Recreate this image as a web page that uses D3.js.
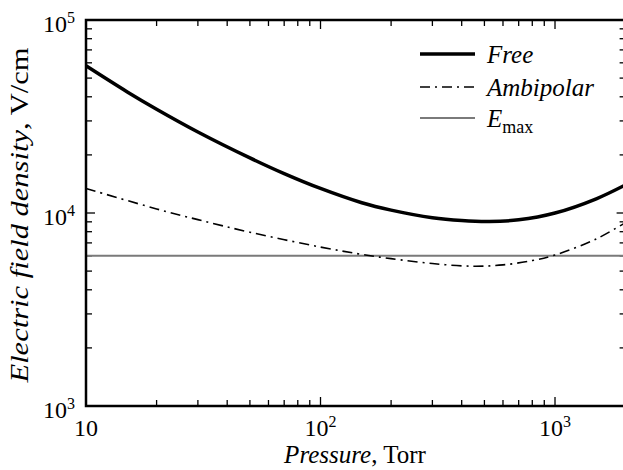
<!DOCTYPE html>
<html><head><meta charset="utf-8">
<script src="https://cdn.jsdelivr.net/npm/d3@7"></script>
<style>
body{margin:0;background:#fff}
svg{display:block}
text{font-family:"Liberation Serif","Times New Roman",serif;fill:#000}
</style>
</head><body>
<svg id="chart" width="623" height="470"></svg>
<script>
// ---- data ----
const freePressure = [10, 15, 20, 30, 50, 70, 100, 150, 200, 300, 400, 525, 700, 1000, 1500, 2000];
const freeField    = [57900, 42400, 34500, 26300, 19300, 16000, 13400, 11300, 10350, 9450, 9140, 9040, 9220, 10000, 11850, 14000];
const ambiPressure = [10, 20, 30, 50, 100, 158, 200, 300, 447, 600, 800, 1000, 1500, 2000];
const ambiField    = [13400, 10500, 9240, 7950, 6660, 6040, 5800, 5470, 5300, 5385, 5670, 6060, 7340, 8930];
const eMaxPressure = [10, 2000];
const eMaxField    = [6000, 6000];
const xMajorTicks  = [10, 100, 1000];
const xTickLabels  = [["10", ""], ["10", "2"], ["10", "3"]];
const yMajorTicks  = [1000, 10000, 100000];
const yTickLabels  = [["10", "3"], ["10", "4"], ["10", "5"]];
const seriesNames  = ["Free", "Ambipolar", "E|max"];

// ---- layout ----
const svg = d3.select("#chart");
const pL = 86, pT = 20, pB = 406, pR = 625.6;
const x = d3.scaleLog().domain([10, 2000]).range([pL, pR]);
const y = d3.scaleLog().domain([1000, 100000]).range([pB, pT]);

function minorTicks(lo, hi) {
  const out = [];
  for (let d = lo; d < hi; d *= 10)
    for (let k = 2; k <= 9; k++) if (d * k <= hi) out.push(d * k);
  return out;
}
const xMinor = minorTicks(10, 2000);
const yMinor = minorTicks(1000, 100000);
const MAJ = 9, MIN = 6;

// ticks
const tg = svg.append("g").attr("stroke", "#000").attr("stroke-width", 1.3);
[[xMajorTicks, MAJ], [xMinor, MIN]].forEach(([arr, len]) => {
  tg.selectAll(null).data(arr).enter().append("line")
    .attr("x1", d => x(d)).attr("x2", d => x(d)).attr("y1", pB).attr("y2", pB - len);
  tg.selectAll(null).data(arr).enter().append("line")
    .attr("x1", d => x(d)).attr("x2", d => x(d)).attr("y1", pT).attr("y2", pT + len);
});
[[yMajorTicks, MAJ], [yMinor, MIN]].forEach(([arr, len]) => {
  tg.selectAll(null).data(arr).enter().append("line")
    .attr("y1", d => y(d)).attr("y2", d => y(d)).attr("x1", pL).attr("x2", pL + len);
  tg.selectAll(null).data(arr).enter().append("line")
    .attr("y1", d => y(d)).attr("y2", d => y(d)).attr("x1", pR).attr("x2", pR - len);
});

// lines
const line = d3.line().x(d => x(d[0])).y(d => y(d[1])).curve(d3.curveCatmullRom.alpha(0.5));
svg.append("path").datum(eMaxPressure.map((p, i) => [p, eMaxField[i]]))
  .attr("d", line).attr("fill", "none").attr("stroke", "#7a7a7a").attr("stroke-width", 2);
svg.append("path").datum(ambiPressure.map((p, i) => [p, ambiField[i]]))
  .attr("d", line).attr("fill", "none").attr("stroke", "#000").attr("stroke-width", 1.6)
  .attr("stroke-dasharray", "10,5,2,5");
svg.append("path").datum(freePressure.map((p, i) => [p, freeField[i]]))
  .attr("d", line).attr("fill", "none").attr("stroke", "#000").attr("stroke-width", 3.5);

// frame
svg.append("rect").attr("x", pL).attr("y", pT).attr("width", pR - pL).attr("height", pB - pT)
  .attr("fill", "none").attr("stroke", "#000").attr("stroke-width", 2.5);

// tick labels
xMajorTicks.forEach((v, i) => {
  const t = svg.append("text").attr("x", x(v)).attr("y", pB + 30)
    .attr("text-anchor", "middle").attr("font-size", 24);
  t.append("tspan").text(xTickLabels[i][0]);
  if (xTickLabels[i][1]) t.append("tspan").attr("dy", -9).attr("font-size", 16).text(xTickLabels[i][1]);
});
yMajorTicks.forEach((v, i) => {
  const t = svg.append("text").attr("x", 75).attr("y", y(v) + 12)
    .attr("text-anchor", "end").attr("font-size", 24);
  t.append("tspan").text(yTickLabels[i][0]);
  t.append("tspan").attr("dy", -9).attr("font-size", 16).text(yTickLabels[i][1]);
});

// axis titles
const xt = svg.append("text").attr("x", 355).attr("y", 463).attr("text-anchor", "middle").attr("font-size", 25);
xt.append("tspan").attr("font-style", "italic").text("Pressure");
xt.append("tspan").text(", Torr");
const yt = svg.append("text").attr("transform", "translate(28,215) rotate(-90)")
  .attr("text-anchor", "middle").attr("font-size", 25)
  .attr("textLength", 335).attr("lengthAdjust", "spacingAndGlyphs");
yt.append("tspan").attr("font-style", "italic").text("Electric field density");
yt.append("tspan").text(", V/cm");

// legend
const legY = [54, 87, 118];
const legStyles = [
  {stroke: "#000", w: 3.5, dash: null},
  {stroke: "#000", w: 1.6, dash: "10,5,2,5"},
  {stroke: "#7a7a7a", w: 2, dash: null}
];
seriesNames.forEach((name, i) => {
  const s = legStyles[i];
  svg.append("line").attr("x1", 420).attr("x2", 475).attr("y1", legY[i]).attr("y2", legY[i])
    .attr("stroke", s.stroke).attr("stroke-width", s.w).attr("stroke-dasharray", s.dash);
  const t = svg.append("text").attr("x", 487).attr("y", legY[i] + 9).attr("font-size", 25).attr("font-style", "italic");
  const parts = name.split("|");
  t.append("tspan").text(parts[0]);
  if (parts[1]) t.append("tspan").attr("dy", 6).attr("font-size", 18).attr("font-style", "normal").text(parts[1]);
});
</script>
</body></html>
